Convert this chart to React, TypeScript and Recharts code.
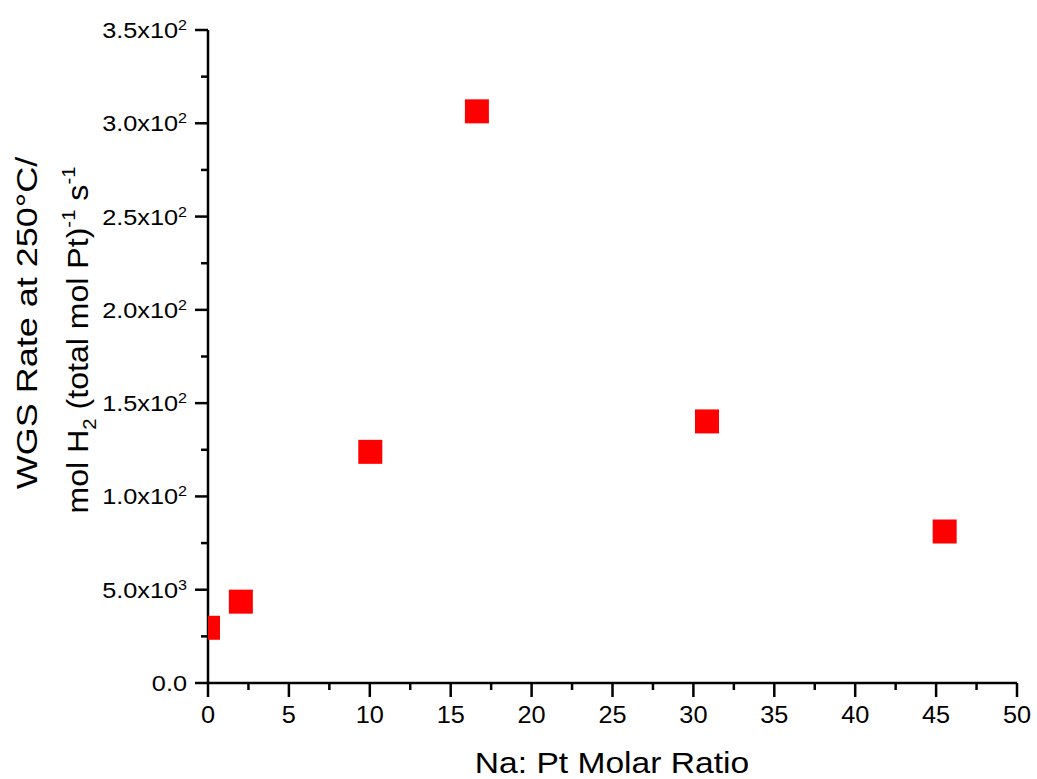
import { ScatterChart, Scatter, XAxis, YAxis } from 'recharts'

// Na:Pt molar ratio vs. WGS rate at 250 °C
const ratio = [0, 2.03, 10.03, 16.62, 30.84, 45.53]
const rate = [29.6, 43.6, 123.9, 306.4, 140.2, 81.2]

const xTicks = [0, 2.5, 5, 7.5, 10, 12.5, 15, 17.5, 20, 22.5, 25, 27.5, 30, 32.5, 35, 37.5, 40, 42.5, 45, 47.5, 50]
const yTicks = [0, 25, 50, 75, 100, 125, 150, 175, 200, 225, 250, 275, 300, 325, 350]

// mantissa / exponent pairs for the major y ticks
const yTickLabels: Record<number, [string, string]> = {
  0: ['0.0', ''],
  50: ['5.0x10', '3'],
  100: ['1.0x10', '2'],
  150: ['1.5x10', '2'],
  200: ['2.0x10', '2'],
  250: ['2.5x10', '2'],
  300: ['3.0x10', '2'],
  350: ['3.5x10', '2'],
}

const points = ratio.map((x, i) => ({ x, y: rate[i] }))

const FONT = '"Liberation Sans", Arial, sans-serif'
const INK = '#000'

function XTick({ x, y, payload }: any) {
  const major = payload.value % 5 === 0
  return (
    <g>
      <line x1={x} x2={x} y1={y} y2={y + (major ? 14 : 7)} stroke={INK} strokeWidth={2.5} />
      {major && (
        <text
          transform={`translate(${x},${y + 40}) scale(1.1,1)`}
          textAnchor="middle"
          fontSize={23}
          fontFamily={FONT}
          fill={INK}
        >
          {payload.value}
        </text>
      )}
    </g>
  )
}

function YTick({ x, y, payload }: any) {
  const label = yTickLabels[payload.value]
  const major = !!label
  return (
    <g>
      <line x1={x - (major ? 13 : 7)} x2={x} y1={y} y2={y} stroke={INK} strokeWidth={2.5} />
      {major && (
        <text
          transform={`translate(${x - 21},${y + 8}) scale(1.15,1)`}
          textAnchor="end"
          fontSize={22}
          fontFamily={FONT}
          fill={INK}
        >
          {label[0]}
          {label[1] && (
            <tspan fontSize={14} dy={-8}>
              {label[1]}
            </tspan>
          )}
        </text>
      )}
    </g>
  )
}

const renderXTitle = () => (
  <text
    transform="translate(612,773) scale(1.12,1)"
    textAnchor="middle"
    fontSize={30}
    fontFamily={FONT}
    fill={INK}
  >
    Na: Pt Molar Ratio
  </text>
)

const renderYTitle = () => (
  <g fontFamily={FONT} fill={INK}>
    <text transform="translate(37,323) rotate(-90) scale(1.2,1)" textAnchor="middle" fontSize={30}>
      WGS Rate at 250°C/
    </text>
    <text transform="translate(88,340) rotate(-90) scale(1.07,1)" textAnchor="middle" fontSize={30}>
      mol H
      <tspan fontSize={19} dy={8}>2</tspan>
      <tspan dy={-8}> (total mol Pt)</tspan>
      <tspan fontSize={19} dy={-13}>-1</tspan>
      <tspan dy={13}> s</tspan>
      <tspan fontSize={19} dy={-13}>-1</tspan>
    </text>
  </g>
)

const Square = ({ cx, cy }: any) => <rect x={cx - 12} y={cy - 12} width={24} height={24} fill="#ff0000" />

export default function App() {
  return (
    <div style={{ position: 'absolute', left: 0, top: 0, background: '#fff' }}>
      <ScatterChart width={1037} height={779} margin={{ top: 30, right: 20, bottom: 0, left: 0 }}>
        <XAxis
          type="number"
          dataKey="x"
          domain={[0, 50]}
          ticks={xTicks}
          interval={0}
          allowDataOverflow
          height={96}
          tickSize={0}
          tickMargin={0}
          tickLine={false}
          axisLine={{ stroke: INK, strokeWidth: 2.5 }}
          tick={<XTick />}
          label={renderXTitle}
        />
        <YAxis
          type="number"
          dataKey="y"
          domain={[0, 350]}
          ticks={yTicks}
          interval={0}
          allowDataOverflow
          width={208}
          tickSize={0}
          tickMargin={0}
          tickLine={false}
          axisLine={{ stroke: INK, strokeWidth: 2.5 }}
          tick={<YTick />}
          label={renderYTitle}
        />
        <Scatter data={points} shape={<Square />} isAnimationActive={false} />
      </ScatterChart>
    </div>
  )
}
